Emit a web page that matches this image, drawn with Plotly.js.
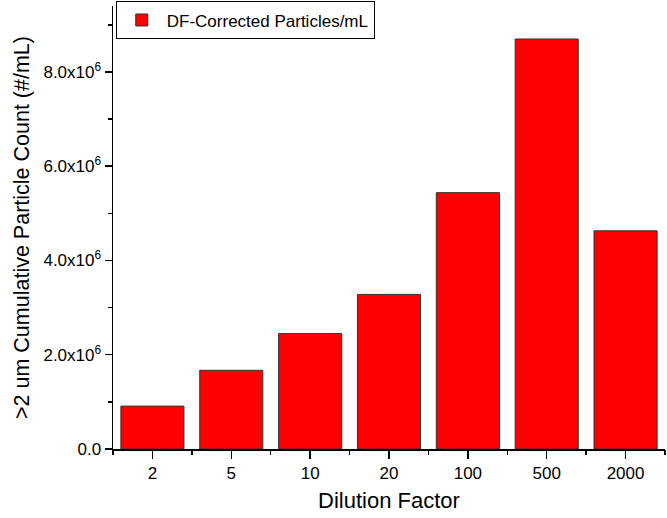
<!DOCTYPE html>
<html>
<head>
<meta charset="utf-8">
<script src="https://cdn.plot.ly/plotly-3.0.1.min.js"></script>
<style>
  html, body { margin: 0; padding: 0; background: #fff; }
  #chart { width: 667px; height: 518px; }
</style>
</head>
<body>
<div id="chart"></div>
<script>
// dilution factors (category axis) and DF-corrected counts
const dilutionFactors = ['2', '5', '10', '20', '100', '500', '2000'];
const particleCounts = [0.91e6, 1.67e6, 2.45e6, 3.28e6, 5.44e6, 8.70e6, 4.63e6];

// y tick labels
const yTickVals = [0, 2e6, 4e6, 6e6, 8e6];
const yTickText = ['0.0', '2.0x10<sup>6</sup>', '4.0x10<sup>6</sup>', '6.0x10<sup>6</sup>', '8.0x10<sup>6</sup>'];

const fontFam = 'Liberation Sans, Arial, sans-serif';

const bars = {
    type: 'bar',
    x: dilutionFactors,
    y: particleCounts,
    name: 'DF-Corrected Particles/mL',
    marker: { color: '#ff0000', line: { color: '#333', width: 1 } },
    hoverinfo: 'x+y'
};

// invisible helper so the boundary ticks get drawn on a second x axis
const boundaryHelper = {
    type: 'scatter',
    mode: 'markers',
    x: dilutionFactors,
    y: dilutionFactors.map(() => 0),
    xaxis: 'x2',
    marker: { opacity: 0 },
    showlegend: false,
    hoverinfo: 'skip'
};

const layout = {
    width: 667, height: 518,
    paper_bgcolor: '#fff', plot_bgcolor: '#fff',
    margin: { l: 113, r: 2, t: 5, b: 69 },
    font: { family: fontFam, color: '#000', size: 17 },
    bargap: 0.2,
    showlegend: true,
    legend: {
        x: 0.005, y: 1.008, xanchor: 'left', yanchor: 'top',
        bgcolor: '#fff', bordercolor: '#000', borderwidth: 1,
        itemwidth: 40,
        tracegroupgap: 0,
        font: { size: 17, family: fontFam }
    },
    xaxis: {
        type: 'category',
        showline: true, linecolor: '#000', linewidth: 1.5,
        ticks: 'outside', ticklen: 8, tickwidth: 1.5, tickcolor: '#000',
        showgrid: false, zeroline: false,
        tickfont: { size: 17 },
        title: { text: 'Dilution Factor', font: { size: 22 }, standoff: 10 }
    },
    xaxis2: {
        type: 'category',
        overlaying: 'x', matches: 'x',
        tickson: 'boundaries',
        ticks: 'outside', ticklen: 5, tickwidth: 1.5, tickcolor: '#000',
        showticklabels: false, showgrid: false, showline: false, zeroline: false
    },
    yaxis: {
        range: [0, 9.4e6],
        showline: true, linecolor: '#000', linewidth: 1.5,
        ticks: 'outside', ticklen: 7, tickwidth: 1.5, tickcolor: '#000',
        tickvals: yTickVals, ticktext: yTickText,
        minor: { dtick: 1e6, ticks: 'outside', ticklen: 4, tickwidth: 1.5, tickcolor: '#000', showgrid: false },
        showgrid: false, zeroline: false,
        tickfont: { size: 17 },
        title: { text: '>2 um Cumulative Particle Count (#/mL)', font: { size: 21.5 }, standoff: 8 }
    }
};

Plotly.newPlot('chart', [bars, boundaryHelper], layout, { displayModeBar: false, staticPlot: true });
</script>
</body>
</html>
